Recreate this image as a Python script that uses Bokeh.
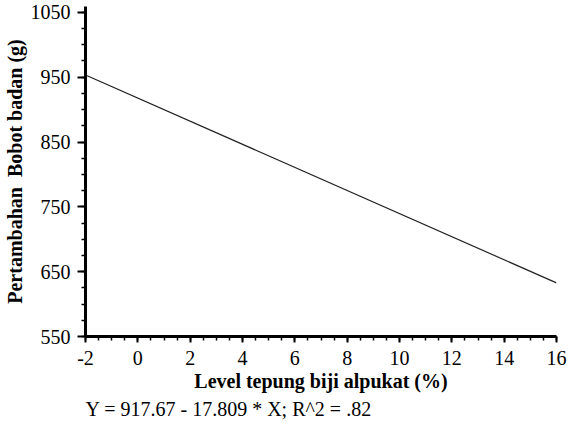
from bokeh.plotting import figure
from bokeh.models import Range1d, FixedTicker, SingleIntervalTicker, Title
from bokeh.embed import file_html
from bokeh.resources import INLINE

# Data
x_vals = [-2, 16]
y_vals = [953.3, 632.7]
x_ticks = [-2, 0, 2, 4, 6, 8, 10, 12, 14, 16]
y_ticks = [550, 650, 750, 850, 950, 1050]
y_minor = [550 + 25 * i for i in range(21)]
equation = "Y = 917.67 - 17.809 * X; R^2 = .82"
x_label = "Level tepung biji alpukat (%)"
y_label = "Pertambahan\u00a0 Bobot badan (g)"

FONT = "Liberation Serif"

p = figure(width=567, height=422, output_backend="svg", toolbar_location=None,
           x_range=Range1d(-2, 16), y_range=Range1d(550, 1059),
           min_border_left=80, min_border_right=11, min_border_top=6, min_border_bottom=86)
p.outline_line_color = None
p.grid.visible = False
p.background_fill_color = "white"
p.border_fill_color = "white"

p.line(x_vals, y_vals, line_color="#222222", line_width=1.2)

p.xaxis.ticker = FixedTicker(ticks=x_ticks, minor_ticks=[t / 2 for t in range(-4, 33)])
p.yaxis.ticker = FixedTicker(ticks=y_ticks, minor_ticks=y_minor)
p.xaxis.major_label_overrides = {-2: "-2"}

for ax in (p.xaxis, p.yaxis):
    ax.axis_line_width = 3
    ax.axis_line_color = "black"
    ax.major_tick_line_width = 2
    ax.minor_tick_line_width = 1.5
    ax.major_tick_in = 0
    ax.minor_tick_in = 0
    ax.major_label_text_font = FONT
    ax.major_label_text_font_size = "20px"
    ax.major_label_text_color = "black"
    ax.axis_label_text_font = FONT
    ax.axis_label_text_font_size = "20px"
    ax.axis_label_text_font_style = "bold"
    ax.axis_label_text_color = "black"

p.xaxis.major_tick_out = 6
p.xaxis.minor_tick_out = 4
p.xaxis.major_label_standoff = 8
p.xaxis.axis_label = x_label
p.xaxis.axis_label_standoff = 2

p.yaxis.major_tick_out = 8
p.yaxis.minor_tick_out = 4
p.yaxis.major_label_standoff = 7
p.yaxis.axis_label = y_label
p.yaxis.axis_label_standoff = 2

t = Title(text=equation, align="left", text_font=FONT, text_font_size="20px",
          text_font_style="normal", text_color="black", standoff=2)
p.add_layout(t, "below")

open("out.html", "w").write(file_html(p, INLINE))
